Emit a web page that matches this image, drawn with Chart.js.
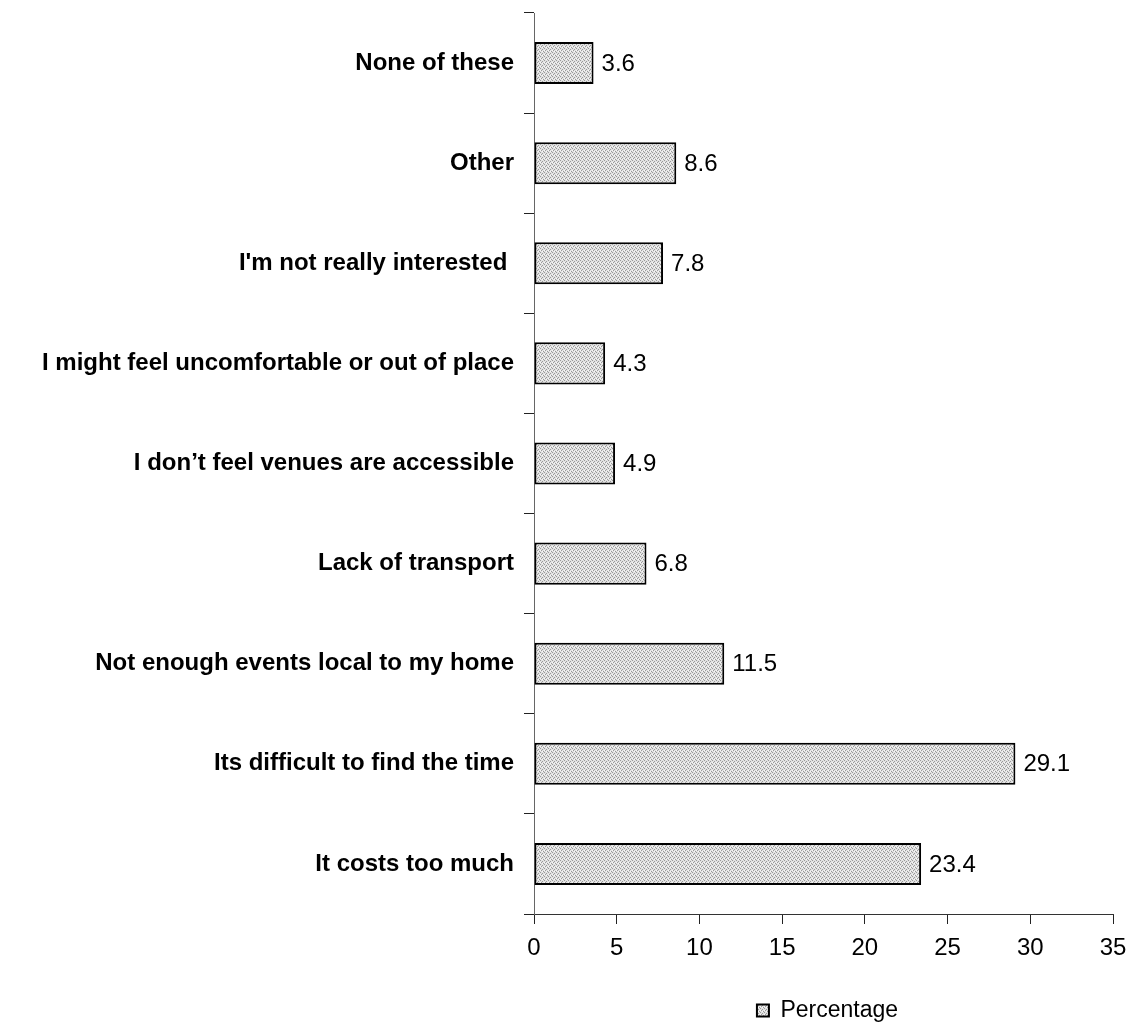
<!DOCTYPE html>
<html>
<head>
<meta charset="utf-8">
<title>Reasons for not attending</title>
<script src="https://cdn.jsdelivr.net/npm/chart.js@4/dist/chart.umd.min.js"></script>
<style>
  body { margin: 0; background: #fff; }
  #chart { display: block; }
</style>
</head>
<body>
<canvas id="chart" width="1131" height="1028"></canvas>
<script>
// Survey answers, top to bottom
const reasons = [
    'None of these',
    'Other',
    "I'm not really interested ",
    'I might feel uncomfortable or out of place',
    'I don\u2019t feel venues are accessible',
    'Lack of transport',
    'Not enough events local to my home',
    'Its difficult to find the time',
    'It costs too much'
];
const percentages = [3.6, 8.6, 7.8, 4.3, 4.9, 6.8, 11.5, 29.1, 23.4];
const xTicks = [0, 5, 10, 15, 20, 25, 30, 35];

const FONT = 'Arial, "Liberation Sans", sans-serif';

// Small grey stipple used to fill the bars and the legend swatch
function makeStipple() {
    const c = document.createElement('canvas');
    c.width = 4;
    c.height = 4;
    const g = c.getContext('2d');
    g.fillStyle = '#e2e2e2';
    g.fillRect(0, 0, 4, 4);
    g.fillStyle = '#9a9a9a';
    [[0, 0], [2, 1], [1, 2], [3, 3]].forEach(p => g.fillRect(p[0], p[1], 1, 1));
    g.fillStyle = '#f8f8f8';
    [[2, 3], [0, 2]].forEach(p => g.fillRect(p[0], p[1], 1, 1));
    return g.createPattern(c, 'repeat');
}

const ctx = document.getElementById('chart').getContext('2d');
const stipple = makeStipple();

// Writes each value just past the end of its bar
const valueLabels = {
    id: 'valueLabels',
    afterDatasetsDraw(chart) {
        const c = chart.ctx;
        const meta = chart.getDatasetMeta(0);
        c.save();
        c.font = '24px ' + FONT;
        c.fillStyle = '#000';
        c.textAlign = 'left';
        c.textBaseline = 'middle';
        meta.data.forEach((bar, i) => {
            c.fillText(percentages[i].toFixed(1), bar.x + 8, bar.y + 1);
        });
        c.restore();
    }
};

// Center the legend under the plot area and drop it a little lower
const legendUnderPlot = {
    id: 'legendUnderPlot',
    afterLayout(chart) {
        const lg = chart.legend;
        if (!lg) return;
        const w = lg.right - lg.left;
        const mid = (chart.chartArea.left + chart.chartArea.right) / 2 + 4;
        lg.left = mid - w / 2;
        lg.right = mid + w / 2;
        lg.top += 4;
        lg.bottom += 4;
        lg.adjustHitBoxes();
    }
};

new Chart(ctx, {
    type: 'bar',
    data: {
        labels: reasons,
        datasets: [{
            label: 'Percentage',
            data: percentages,
            backgroundColor: stipple,
            borderColor: '#000',
            borderWidth: 2,
            borderSkipped: false,
            barPercentage: 0.42,
            categoryPercentage: 1
        }]
    },
    options: {
        indexAxis: 'y',
        responsive: false,
        animation: false,
        layout: { padding: { top: 13, right: 18, bottom: 0, left: 0 } },
        scales: {
            x: {
                min: 0,
                max: 35,
                afterBuildTicks(scale) {
                    scale.ticks = xTicks.map(v => ({ value: v }));
                },
                afterFit(scale) {
                    scale.height = 77;
                    scale.paddingLeft = 0;
                    scale.paddingRight = 0;
                },
                grid: {
                    drawOnChartArea: false,
                    tickLength: 10,
                    color: '#222',
                    lineWidth: 1
                },
                border: { color: '#333', width: 1 },
                ticks: {
                    padding: 10,
                    color: '#000',
                    font: { family: FONT, size: 24 }
                }
            },
            y: {
                afterFit(scale) {
                    scale.width = 534;
                    scale.paddingTop = 0;
                    scale.paddingBottom = 0;
                },
                grid: {
                    drawOnChartArea: false,
                    offset: true,
                    tickLength: 10,
                    color: '#222',
                    lineWidth: 1
                },
                border: { color: '#666', width: 1 },
                ticks: {
                    padding: 10,
                    color: '#000',
                    font: { family: FONT, size: 24, weight: 'bold' }
                }
            }
        },
        plugins: {
            legend: {
                position: 'bottom',
                labels: {
                    boxWidth: 12,
                    boxHeight: 12,
                    padding: 4,
                    color: '#000',
                    font: { family: FONT, size: 23 }
                }
            },
            tooltip: { enabled: false }
        }
    },
    plugins: [valueLabels, legendUnderPlot]
});
</script>
</body>
</html>
